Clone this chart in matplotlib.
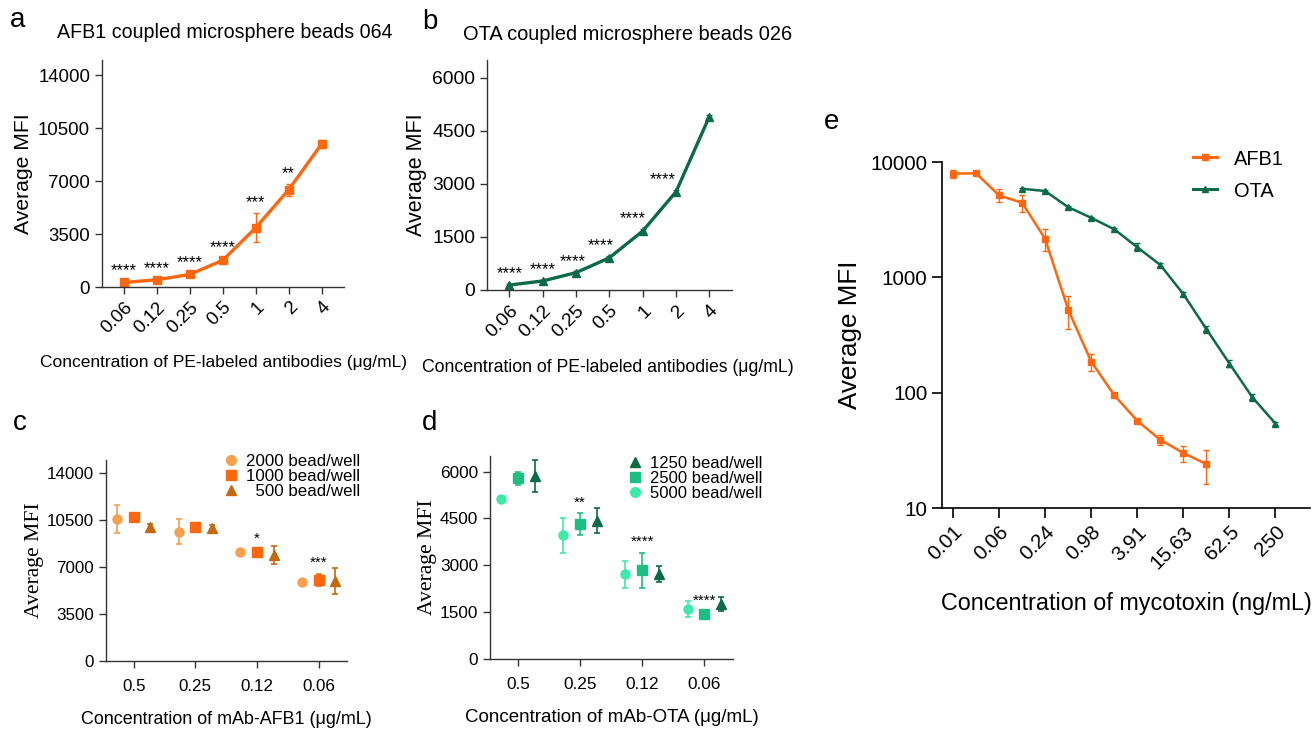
import numpy as np
import matplotlib
matplotlib.use("Agg")
import matplotlib.pyplot as plt
from matplotlib.lines import Line2D

# ---- data ----
pe_conc = ["0.06", "0.12", "0.25", "0.5", "1", "2", "4"]
afb1_pe = [300, 480, 830, 1770, 3920, 6430, 9450]
afb1_pe_err = [80, 90, 120, 150, 950, 400, 250]
afb1_pe_sig = ["****", "****", "****", "****", "***", "**", ""]
ota_pe = [140, 255, 490, 910, 1665, 2775, 4900]
ota_pe_err = [30, 30, 35, 45, 55, 60, 50]
ota_pe_sig = ["****", "****", "****", "****", "****", "****", ""]

mab_afb1_conc = ["0.5", "0.25", "0.12", "0.06"]
afb1_beads = ["2000 bead/well", "1000 bead/well", "\u2007500 bead/well"]
afb1_mab = [[10590, 9650, 8110, 5920],
            [10720, 9970, 8160, 6040],
            [10020, 9900, 7910, 5970]]
afb1_mab_err = [[1050, 920, 150, 150],
                [200, 150, 150, 450],
                [200, 250, 650, 950]]
afb1_mab_sig = ["", "", "*", "***"]

mab_ota_conc = ["0.5", "0.25", "0.12", "0.06"]
ota_beads = ["5000 bead/well", "2500 bead/well", "1250 bead/well"]
ota_mab = [[5120, 3970, 2710, 1600],
           [5780, 4320, 2840, 1440],
           [5860, 4430, 2720, 1770]]
ota_mab_err = [[100, 560, 440, 250],
               [200, 340, 570, 80],
               [500, 390, 270, 230]]
ota_mab_sig = ["", "**", "****", "****"]

myco_ticks = ["0.01", "0.06", "0.24", "0.98", "3.91", "15.63", "62.5", "250"]
afb1_idx = list(range(0, 12))
afb1_curve = [7930, 7980, 5130, 4430, 2150, 525, 186, 95, 57, 39, 30, 24]
afb1_curve_err = [600, 150, 650, 740, 450, 165, 32, 4, 2, 3.6, 4.8, 8]
ota_idx = list(range(3, 15))
ota_curve = [5860, 5600, 4060, 3280, 2610, 1825, 1280, 716, 356, 179, 91, 54]
ota_curve_err = [100, 90, 70, 60, 50, 145, 40, 25, 25, 12, 6, 2]

# ---- style ----
ORANGE = "#ff670f"
GREEN = "#0b6b47"
c_cols = ["#f7a04e", "#ff670f", "#c4690d"]
c_marks = ["o", "s", "^"]
d_cols = ["#3deaa8", "#1bbf82", "#0b6b47"]
d_marks = ["o", "s", "^"]
SANS = ["Liberation Sans", "DejaVu Sans"]
NARROW = ["Liberation Sans Narrow", "Liberation Sans", "DejaVu Sans"]
SERIF = ["Liberation Serif", "DejaVu Serif"]
plt.rcParams["font.family"] = SANS
plt.rcParams["axes.linewidth"] = 1.0
plt.rcParams["axes.edgecolor"] = "#333333"

W, H = 1314, 730
fig = plt.figure(figsize=(W / 100, H / 100), dpi=100)
R = fig.canvas.get_renderer()


def rect(l, r, t, b):
    return [l / W, 1 - b / H, (r - l) / W, (b - t) / H]


def ftext(x, y, s, **kw):
    return fig.text(x / W, 1 - y / H, s, **kw)


def fit(t, target, dim="w"):
    # scale font so the text spans the pixel size measured on the reference
    for _ in range(3):
        bb = t.get_window_extent(R)
        cur = bb.width if dim == "w" else bb.height
        t.set_fontsize(t.get_fontsize() * target / cur)
    return t.get_fontsize()


def fit_ticks(ax, which, idx, target):
    labs = ax.get_yticklabels() if which == "y" else ax.get_xticklabels()
    size = fit(labs[idx], target)
    for t in ax.get_xticklabels() + ax.get_yticklabels():
        t.set_fontsize(size)


def clean(ax):
    ax.spines["top"].set_visible(False)
    ax.spines["right"].set_visible(False)
    ax.tick_params(direction="out", length=5, width=1.0, color="#333333")


# ---- a / b ----
def pe_panel(r, vals, errs, sig, col, marker, ms, ymax, yticks, off, tick_w, ylab_h):
    ax = fig.add_axes(r)
    x = np.arange(len(pe_conc))
    ax.errorbar(x, vals, yerr=errs, color=col, marker=marker, ms=ms, lw=2.4,
                elinewidth=1.0, capsize=2, capthick=1.0)
    for i, s in enumerate(sig):
        if s:
            t = ax.text(x[i] + off[i], vals[i] + errs[i] + ymax * 0.012, s,
                        ha="center", va="bottom", fontsize=12)
            fit(t, 6.5 * len(s))
    ax.set_xlim(-0.67, 6.68)
    ax.set_ylim(0, ymax)
    ax.set_yticks(yticks)
    ax.set_yticklabels([str(v) for v in yticks])
    ax.set_xticks(x)
    ax.set_xticklabels(pe_conc, rotation=45, ha="right", va="top",
                       rotation_mode="anchor")
    clean(ax)
    fit_ticks(ax, "y", -1, tick_w)
    yl = ax.set_ylabel("Average MFI", fontsize=15, labelpad=4)
    fit(yl, ylab_h, "h")
    return ax


pe_panel(rect(102, 344, 60, 287), afb1_pe, afb1_pe_err, afb1_pe_sig, ORANGE, "s",
         6, 15000, [0, 3500, 7000, 10500, 14000], [0, 0, 0, 0, 0, 0, 0], 52, 120)
pe_panel(rect(487, 732, 60, 290), ota_pe, ota_pe_err, ota_pe_sig, GREEN, "^",
         6, 6500, [0, 1500, 3000, 4500, 6000], [0, 0, -0.1, -0.25, -0.3, -0.4, 0], 43, 123)

ftext(18, 20, "a", fontsize=20, va="center", ha="center")
ftext(430, 22, "b", fontsize=20, va="center", ha="center")
fit(ftext(225, 33, "AFB1 coupled microsphere beads 064", fontsize=13.5,
          ha="center", va="center"), 336)
fit(ftext(628, 35, "OTA coupled microsphere beads 026", fontsize=13.5,
          ha="center", va="center"), 330)
fit(ftext(223, 363, "Concentration of PE-labeled antibodies (\u03bcg/mL)", fontsize=14,
          family=NARROW, ha="center", va="center"), 367)
fit(ftext(608, 367, "Concentration of PE-labeled antibodies (\u03bcg/mL)", fontsize=14,
          family=NARROW, ha="center", va="center"), 370)


# ---- c / d ----
def mab_panel(r, cats, labels, vals, errs, sig, cols, marks, ymax, yticks,
              legend_order, xlabel, xl_w, tick_w, leg_w, leg_anchor):
    ax = fig.add_axes(r)
    x = np.arange(len(cats))
    offs = [-0.27, 0, 0.27]
    for k in range(3):
        ax.errorbar(x + offs[k], vals[k], yerr=errs[k], fmt=marks[k],
                    color=cols[k], ms=6.5, elinewidth=1.2, capsize=2.2,
                    capthick=1.2)
    for i, s in enumerate(sig):
        if s:
            top = vals[1][i] + errs[1][i]
            ax.text(x[i], top + ymax * 0.02, s, ha="center", va="bottom", fontsize=11)
    ax.set_xlim(-0.45, 3.46)
    ax.set_ylim(0, ymax)
    ax.set_yticks(yticks)
    ax.set_yticklabels([str(v) for v in yticks])
    ax.set_xticks(x)
    ax.set_xticklabels(cats)
    clean(ax)
    for t in ax.get_xticklabels() + ax.get_yticklabels():
        t.set_family(NARROW)
    fit_ticks(ax, "y", -1, tick_w)
    ax.tick_params(axis="x", pad=8)
    yl = ax.set_ylabel("Average MFI", family=SERIF, fontsize=15, labelpad=2)
    fit(yl, 115, "h")
    xl = ax.set_xlabel(xlabel, family=NARROW, fontsize=14, labelpad=12)
    fit(xl, xl_w)
    hs = [Line2D([], [], ls="none", marker=marks[k], color=cols[k], ms=7)
          for k in legend_order]
    ls = [labels[k] for k in legend_order]
    leg = ax.legend(hs, ls, loc="upper right", bbox_to_anchor=leg_anchor,
                    frameon=False, fontsize=12, handletextpad=0.5, labelspacing=0.0,
                    handlelength=0.8, borderpad=0, borderaxespad=0)
    size = fit(leg.get_texts()[0], leg_w)
    for t in leg.get_texts():
        t.set_fontsize(size)
    return ax


mab_panel(rect(106, 347, 460, 661), mab_afb1_conc, afb1_beads, afb1_mab, afb1_mab_err,
          afb1_mab_sig, c_cols, c_marks, 15000, [0, 3500, 7000, 10500, 14000],
          [0, 1, 2], "Concentration of mAb-AFB1 (\u03bcg/mL)", 292, 47, 114,
          (1.054, 1.03))
mab_panel(rect(490, 733, 456, 659), mab_ota_conc, ota_beads, ota_mab, ota_mab_err,
          ota_mab_sig, d_cols, d_marks, 6500, [0, 1500, 3000, 4500, 6000],
          [2, 1, 0], "Concentration of mAb-OTA (\u03bcg/mL)", 294, 39, 113,
          (1.12, 1.0))

ftext(20, 423, "c", fontsize=20, va="center", ha="center")
ftext(430, 423, "d", fontsize=20, va="center", ha="center")

# ---- e ----
ax = fig.add_axes(rect(942, 1310, 162, 508))
ax.errorbar(afb1_idx, afb1_curve, yerr=afb1_curve_err, color=ORANGE, marker="s",
            ms=4, lw=1.8, elinewidth=1.0, capsize=2, capthick=1.0)
ax.errorbar(ota_idx, ota_curve, yerr=ota_curve_err, color=GREEN, marker="^",
            ms=4, lw=1.8, elinewidth=1.0, capsize=2, capthick=1.0)
ax.set_yscale("log")
ax.set_ylim(10, 10000)
ax.set_xlim(-0.48, 15.5)
ax.set_yticks([10, 100, 1000, 10000])
ax.set_yticklabels(["10", "100", "1000", "10000"])
ax.minorticks_off()
ax.set_xticks(np.arange(0, 16, 2))
ax.set_xticklabels(myco_ticks, rotation=45, ha="right", va="top",
                   rotation_mode="anchor")
clean(ax)
ax.tick_params(length=7, width=1.2, color="black")
for side in ["left", "bottom"]:
    ax.spines[side].set_color("black")
    ax.spines[side].set_linewidth(1.2)
for t in ax.get_xticklabels() + ax.get_yticklabels():
    t.set_family(NARROW)
fit_ticks(ax, "y", -1, 57)
yl = ax.set_ylabel("Average MFI", fontsize=18.5, labelpad=6)
fit(yl, 148, "h")
xl = ax.set_xlabel("Concentration of mycotoxin (ng/mL)", family=NARROW, fontsize=16,
                   labelpad=14)
fit(xl, 372)
e_handles = [Line2D([], [], color=ORANGE, marker="s", ms=4, lw=2.2),
             Line2D([], [], color=GREEN, marker="^", ms=4, lw=2.2)]
leg = ax.legend(e_handles, ["AFB1", "OTA"], loc="upper right",
                bbox_to_anchor=(0.93, 1.035), frameon=False, fontsize=15.5,
                handlelength=1.1, labelspacing=0.6, borderpad=0, borderaxespad=0)
size = fit(leg.get_texts()[0], 50)
for t in leg.get_texts():
    t.set_fontsize(size)
ftext(832, 122, "e", fontsize=20, va="center", ha="center")

fig.savefig("out.png", dpi=100)
